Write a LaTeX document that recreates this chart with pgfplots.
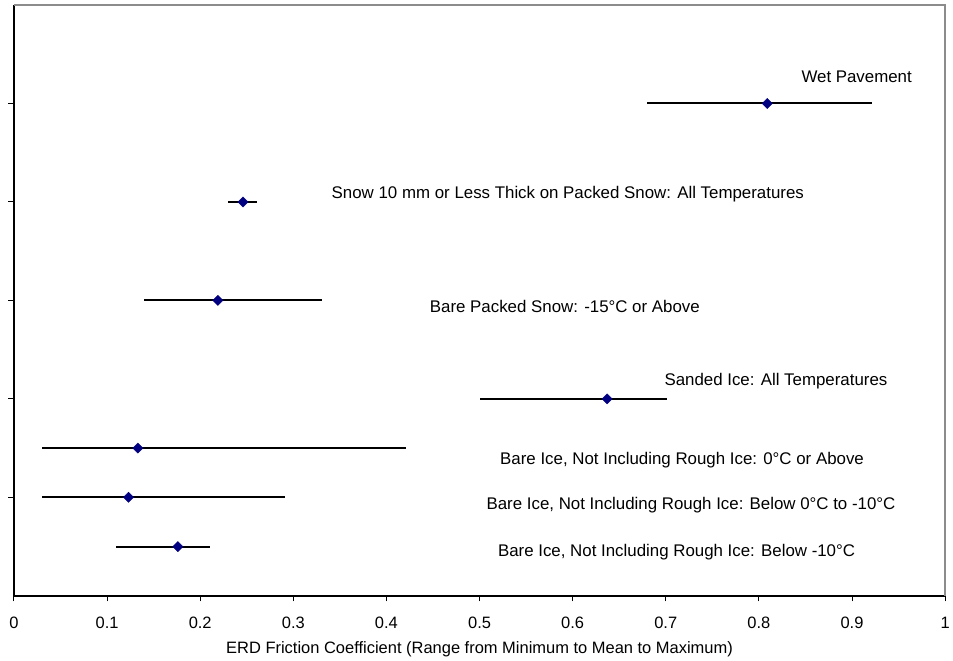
\documentclass[border=0pt]{standalone}
\usepackage{pgfplots}
\pgfplotsset{compat=1.18}
\usepackage{pgfplotstable}
\usepackage{fontspec}
\setmainfont{Liberation Sans}
\definecolor{navy}{RGB}{0,0,128}
\definecolor{frame}{RGB}{140,140,140}
\pgfplotstableread{
y    mean   min   max
5    0.809  0.680 0.921
4    0.246  0.230 0.261
3    0.219  0.140 0.331
2    0.637  0.500 0.701
1.5  0.133  0.030 0.421
1    0.123  0.030 0.291
0.5  0.176  0.110 0.211
}\datatable
\begin{document}
\begin{tikzpicture}
\begin{axis}[
  scale only axis,
  width=933bp, height=592bp,
  xmin=0, xmax=1, ymin=0, ymax=6,
  axis lines=left,
  axis line style={-, black, line width=1.5bp},
  xtick={0,0.1,...,1.0},
  xticklabels={0,0.1,0.2,0.3,0.4,0.5,0.6,0.7,0.8,0.9,1},
  ytick={1,2,3,4,5},
  yticklabels={},
  tick align=outside,
  major tick length=5.5bp,
  tick style={black, line width=1bp},
  /pgf/number format/assume math mode=true,
  ticklabel style={font=\fontsize{16.5bp}{19bp}\selectfont},
  xticklabel style={yshift=-12bp},
  xlabel={ERD Friction Coefficient (Range from Minimum to Mean to Maximum)},
  xlabel style={font=\fontsize{16.5bp}{19bp}\selectfont, at={(axis description cs:0.5,0)}, anchor=base, yshift=-58bp},
  clip=false,
]
\addplot[only marks, mark=none, forget plot,
  error bars/.cd, x dir=both, x explicit,
  error bar style={black, line width=2bp}, error mark=none]
  table[x=mean, y=y,
    x error plus expr=\thisrow{max}-\thisrow{mean},
    x error minus expr=\thisrow{mean}-\thisrow{min}] {\datatable};
\addplot[only marks, mark=square*, mark size=3.6bp,
  mark options={fill=navy, draw=navy, rotate=45}]
  table[x=mean, y=y] {\datatable};

\draw[frame, line width=2.2bp] (rel axis cs:0,1) -- (rel axis cs:1,1) -- (rel axis cs:1,0);

\begin{scope}[every node/.style={font=\fontsize{16.9bp}{20bp}\selectfont, anchor=base, inner sep=0pt}]
\node at (axis cs:0.905,5.212) {Wet Pavement};
\node at (axis cs:0.5948,4.031) {Snow 10 mm or Less Thick on Packed Snow: All Temperatures};
\node at (axis cs:0.5916,2.878) {Bare Packed Snow: -15°C or Above};
\node at (axis cs:0.8183,2.138) {Sanded Ice: All Temperatures};
\node at (axis cs:0.7175,1.338) {Bare Ice, Not Including Rough Ice: 0°C or Above};
\node at (axis cs:0.7271,0.872) {Bare Ice, Not Including Rough Ice: Below 0°C to -10°C};
\node at (axis cs:0.7116,0.402) {Bare Ice, Not Including Rough Ice: Below -10°C};
\end{scope}

\useasboundingbox ([xshift=-14bp, yshift=-64bp]rel axis cs:0,0) rectangle ([xshift=6bp, yshift=5bp]rel axis cs:1,1);
\end{axis}
\end{tikzpicture}
\end{document}
